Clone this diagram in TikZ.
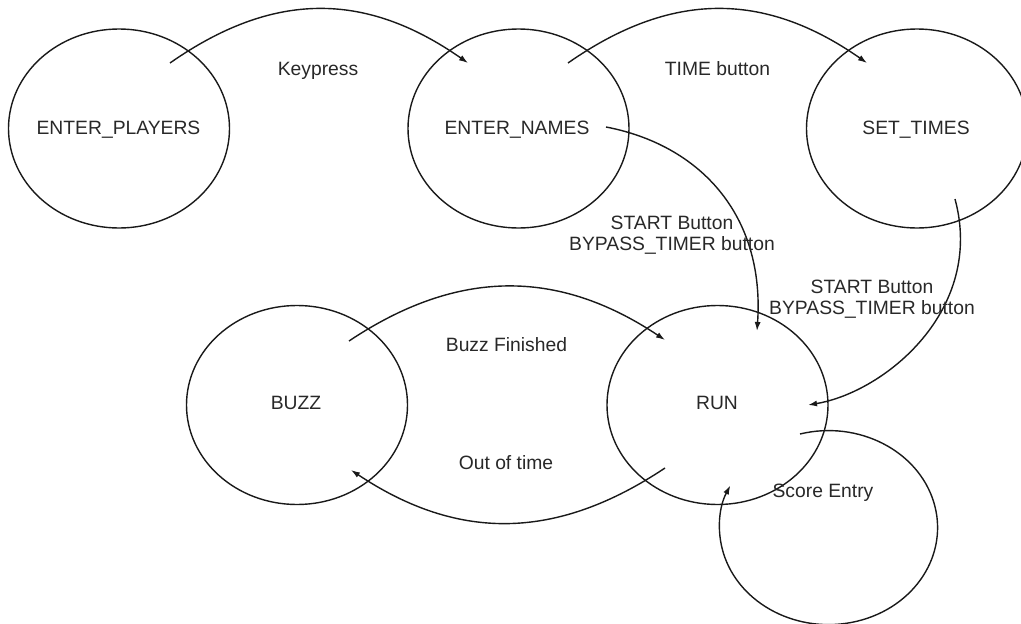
\documentclass[tikz,border=0pt]{standalone}
\usepackage{fontspec}
\setmainfont{Liberation Sans}
\usetikzlibrary{arrows.meta,calc,shapes.geometric}
\definecolor{linec}{RGB}{25,25,25}
\definecolor{textc}{RGB}{40,40,40}
\begin{document}
\begin{tikzpicture}[x=1pt,y=-1pt,
  state/.style={draw=linec, line width=1.4pt, ellipse, minimum width=221pt, minimum height=199pt, inner sep=0pt, outer sep=0pt},
  lbl/.style={text=textc, font=\fontsize{19.3}{21}\selectfont, inner sep=0pt, anchor=base},
  arr/.style={draw=linec, line width=1.4pt, -{Latex[length=9pt,width=6pt]}}]
\useasboundingbox (0,0) rectangle (1021,624);
\clip (0,0) rectangle (1021,624);

% states
\node[state] (EP) at (119,128.5) {};
\node[state] (EN) at (518.5,128.5) {};
\node[state] (ST) at (917,128.5) {};
\node[state] (BZ) at (297,405) {};
\node[state] (RN) at (717.5,405) {};

\node[lbl] (tEP) at ($(EP)+(-0.5,5.5)$) {ENTER\_PLAYERS};
\node[lbl] (tEN) at ($(EN)+(-1.5,5.5)$) {ENTER\_NAMES};
\node[lbl] (tST) at ($(ST)+(-1,5.5)$) {SET\_TIMES};
\node[lbl] (tBZ) at ($(BZ)+(-1,4)$) {BUZZ};
\node[lbl] (tRN) at ($(RN)+(-0.5,4)$) {RUN};

% connector end points
\coordinate (k1) at ($(EP)+(51,-65.5)$);
\coordinate (k2) at ($(EN)+(-50.5,-65.5)$);
\coordinate (t1) at ($(EN)+(49.5,-65.5)$);
\coordinate (t2) at ($(ST)+(-50,-65.5)$);
\coordinate (b1) at ($(BZ)+(52,-64)$);
\coordinate (b2) at ($(RN)+(-52.5,-65)$);
\coordinate (o1) at ($(RN)+(-52.5,63)$);
\coordinate (o2) at ($(BZ)+(54,65)$);
\coordinate (s1) at ($(EN)+(87.5,-1.5)$);
\coordinate (s2) at ($(RN)+(39.5,-74)$);
\coordinate (r1) at ($(ST)+(38,70.5)$);
\coordinate (r2) at ($(RN)+(90.5,0)$);
\coordinate (l1) at ($(RN)+(82.5,29)$);

% connectors
\draw[arr] (k1) .. controls +(103,-72) and +(-103,-72) .. (k2);
\draw[arr] (t1) .. controls +(103,-72) and +(-103,-72) .. (t2);
\draw[arr] (b1) .. controls +(108,-72) and +(-108,-72) .. (b2);
\draw[arr] (o1) .. controls +(-108,72) and +(108,72) .. (o2);
\draw[arr] (s1) .. controls +(94,18) and +(8,-116) .. (s2);
\draw[arr] (r1) .. controls +(30,111) and +(77,-13) .. (r2);
\draw[arr] (l1) arc[start angle=-105.2, end angle=205.7, x radius=109, y radius=97];

% connector labels
\node[lbl] (lk) at (318,75) {Keypress};
\node[lbl] (lt) at (717.5,75) {TIME button};
\node[lbl] (lb) at (506.5,351.5) {Buzz Finished};
\node[lbl] (lo) at (506,469.5) {Out of time};
\node[lbl] (ls) at (823,497) {Score Entry};
\node[lbl] (la1) at (672,229) {START Button};
\node[lbl] (la2) at (672,250) {BYPASS\_TIMER button};
\node[lbl] (lr1) at (872,293) {START Button};
\node[lbl] (lr2) at (872,314) {BYPASS\_TIMER button};
\end{tikzpicture}
\end{document}
